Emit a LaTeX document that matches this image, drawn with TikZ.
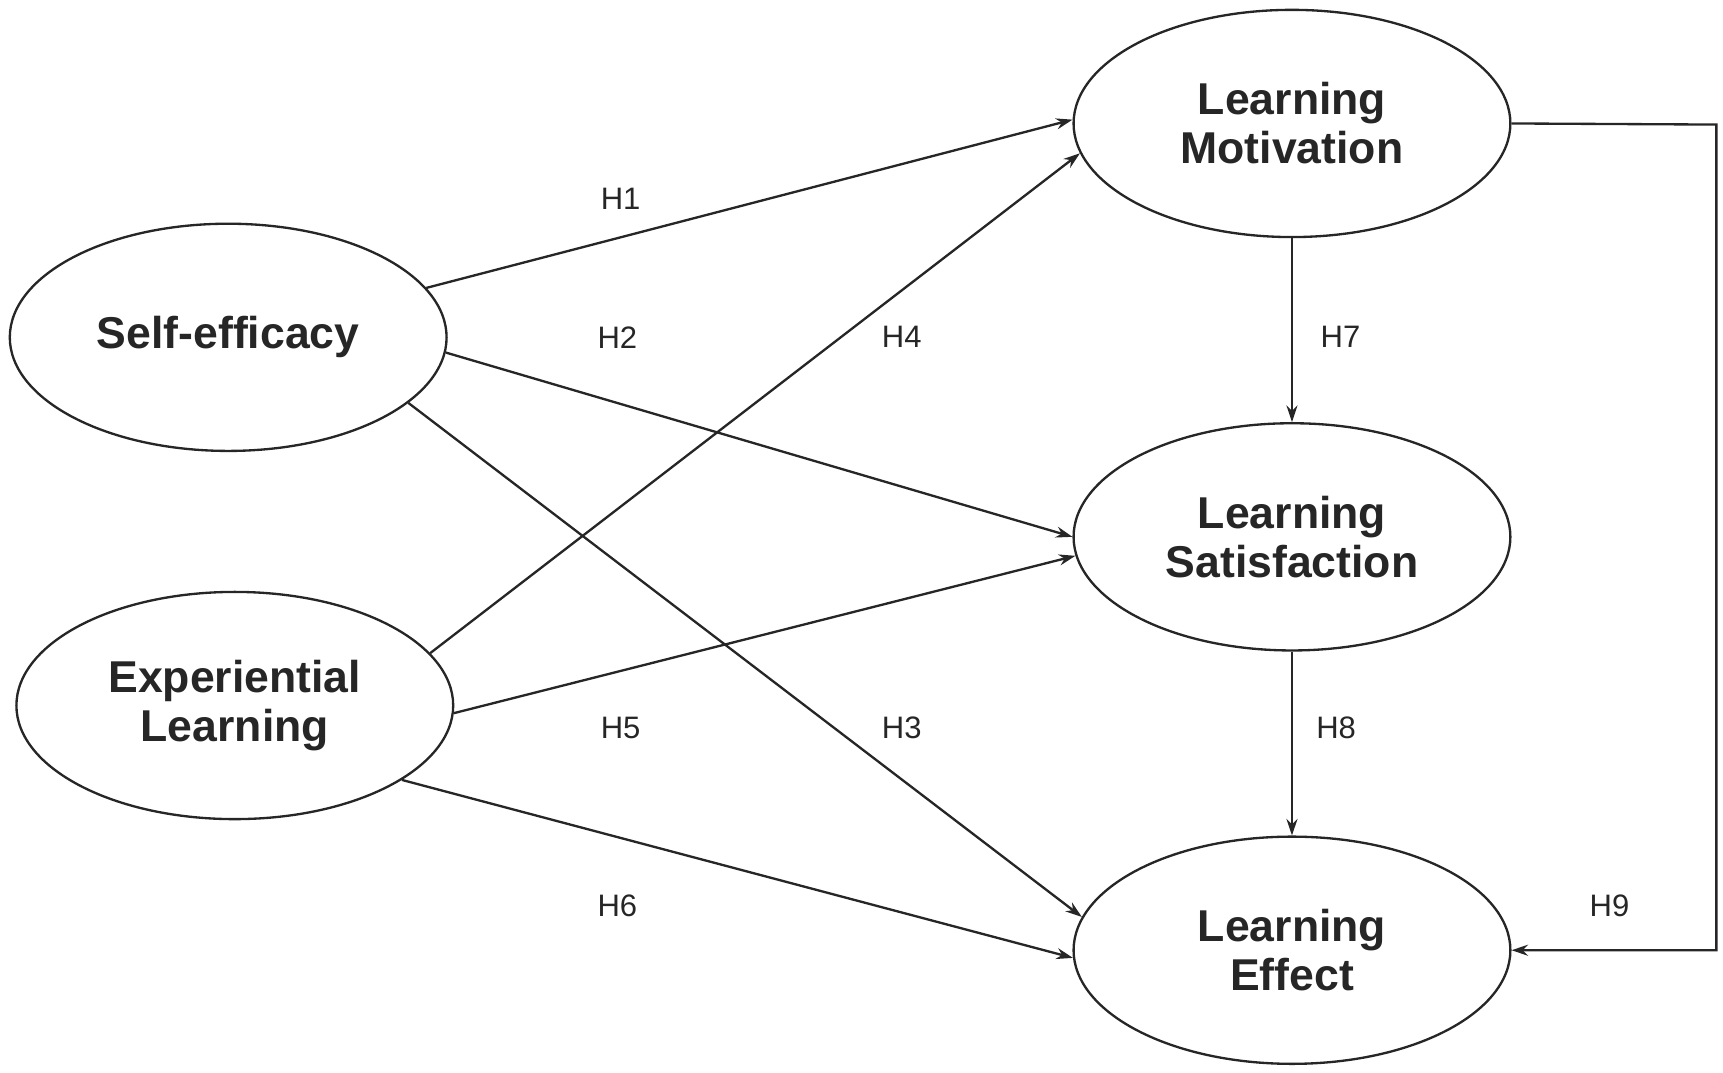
\documentclass[tikz,border=0pt]{standalone}
\usepackage{fontspec}
\setmainfont{Liberation Sans}
\usetikzlibrary{shapes.geometric,arrows.meta}
\begin{document}
\begin{tikzpicture}[x=0.01cm,y=-0.01cm,
  var/.style={ellipse,draw=black!85,line width=0.6pt,minimum width=3.96cm,minimum height=2.06cm,inner sep=0pt,align=center,font=\fontsize{11.5}{12.6}\selectfont\bfseries,text=black!85},
  arr/.style={draw=black!85,line width=0.6pt,-{Stealth[length=0.15cm,width=0.1cm]}},
  lab/.style={font=\fontsize{8}{10}\selectfont,text=black!85}]
\useasboundingbox (0,0) rectangle (1563,973);
\node[var] (SE) at (207,306) {Self-efficacy};
\node[var] (EL) at (213,640) {Experiential\\Learning};
\node[var] (LM) at (1172,112) {Learning\\Motivation};
\node[var] (LS) at (1172,487) {Learning\\Satisfaction};
\node[var] (LE) at (1172,862) {Learning\\Effect};
\draw[arr] (SE.14) -- (LM.179);
\draw[arr] (SE.-4) -- (LS.180);
\draw[arr] (SE.-20) -- (LE.171);
\draw[arr] (EL.15) -- (LM.188);
\draw[arr] (EL.-2) -- (LS.185);
\draw[arr] (EL.-24) -- (LE.182);
\draw[arr] (LM.south) -- (LS.north);
\draw[arr] (LS.south) -- (LE.north);
\coordinate (C) at (1557,113);
\draw[arr] (LM.east) -- (C) |- (LE.east);
\node[lab] (h1) at (563,180) {H1};
\node[lab] (h2) at (560,306) {H2};
\node[lab] (h4) at (818,306) {H4};
\node[lab] (h7) at (1216,306) {H7};
\node[lab] (h5) at (563,660) {H5};
\node[lab] (h3) at (818,660) {H3};
\node[lab] (h8) at (1212,660) {H8};
\node[lab] (h6) at (560,822) {H6};
\node[lab] (h9) at (1460,822) {H9};
\end{tikzpicture}
\end{document}
